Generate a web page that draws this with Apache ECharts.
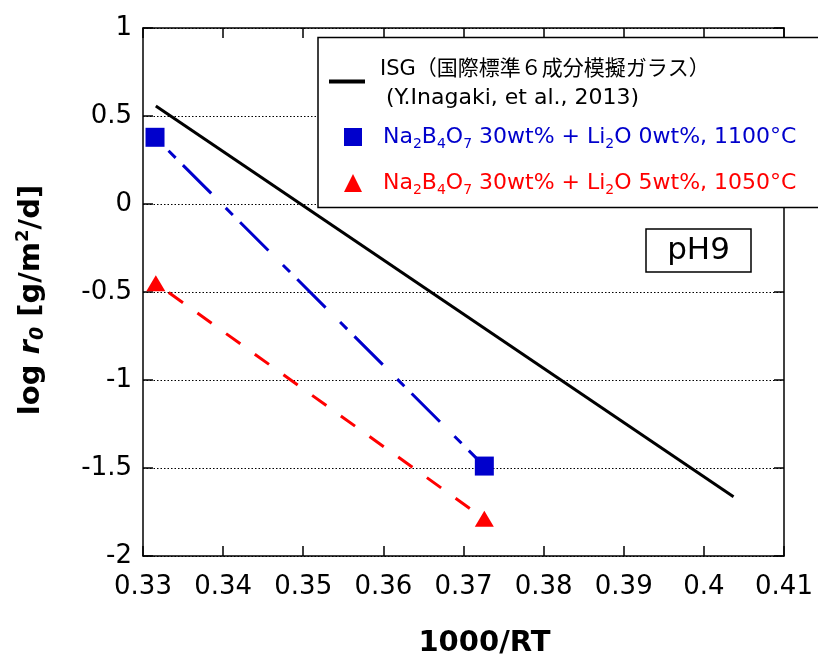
<!DOCTYPE html>
<html>
<head>
<meta charset="utf-8">
<title>log r0 vs 1000/RT</title>
<script src="https://cdn.jsdelivr.net/npm/echarts@6/dist/echarts.min.js"></script>
<style>
  html, body { margin: 0; padding: 0; background: #fff; }
  #chart { width: 818px; height: 657px; }
</style>
</head>
<body>
<div id="chart"></div>
<script>
// Dissolution rate (log r0) against 1000/RT, pH 9
const isgX = [0.3316, 0.4037];
const isgY = [0.557, -1.663];

const li0X = [0.3315, 0.3726];
const li0Y = [0.379, -1.489];

const li5X = [0.3316, 0.3726];
const li5Y = [-0.450, -1.789];

const xTicks = [0.33, 0.34, 0.35, 0.36, 0.37, 0.38, 0.39, 0.40, 0.41];
const yTicks = [-2, -1.5, -1, -0.5, 0, 0.5, 1];

const seriesNames = ['ISG', 'Li2O 0wt%', 'Li2O 5wt%'];

const FONT = "'DejaVu Sans', 'Noto Sans CJK JP', sans-serif";
const BLUE = '#0000cc';
const RED = '#ff0000';

function pairs(xs, ys) {
  return xs.map((x, i) => [x, ys[i]]);
}

const chart = echarts.init(document.getElementById('chart'), null, { renderer: 'canvas' });

const xMin = xTicks[0], xMax = xTicks[xTicks.length - 1];
const yMin = yTicks[0], yMax = yTicks[yTicks.length - 1];

const tickFmt = v => String(+v.toFixed(2));

const baseAxisLine = { show: true, onZero: false, lineStyle: { color: '#000', width: 1.5 } };
const baseTick = { show: true, inside: true, length: 10, lineStyle: { color: '#000', width: 1.5 } };

const option = {
  backgroundColor: '#fff',
  animation: false,
  grid: { left: 143, right: 34, top: 28, bottom: 101, containLabel: false, outerBoundsMode: 'none' },
  xAxis: [
    {
      type: 'value', position: 'bottom',
      min: xMin, max: xMax, interval: 0.01,
      axisLine: baseAxisLine, axisTick: baseTick,
      splitLine: { show: false },
      axisLabel: { formatter: tickFmt, fontFamily: FONT, fontSize: 26, color: '#000', margin: 18 },
      name: '1000/RT', nameLocation: 'middle', nameGap: 73,
      nameTextStyle: { fontFamily: FONT, fontSize: 29, fontWeight: 'bold', color: '#000', padding: [0, 0, 0, 42] }
    },
    {
      type: 'value', position: 'top',
      min: xMin, max: xMax, interval: 0.01,
      axisLine: baseAxisLine, axisTick: baseTick,
      splitLine: { show: false }, axisLabel: { show: false }
    }
  ],
  yAxis: [
    {
      type: 'value', position: 'left',
      min: yMin, max: yMax, interval: 0.5,
      axisLine: baseAxisLine, axisTick: baseTick,
      splitLine: { show: true, lineStyle: { color: '#000', width: 1, type: [1.5, 2] } },
      axisLabel: { fontFamily: FONT, fontSize: 26, color: '#000', margin: 11 },
      name: '{n|log }{i|r}{is|0}{n| [g/m}{sup|2}{n|/d]}',
      nameLocation: 'middle', nameRotate: 90, nameGap: 95,
      nameTextStyle: {
        fontFamily: FONT, fontSize: 29, fontWeight: 'bold', color: '#000',
        padding: [0, 16, 0, 0],
        rich: {
          n: { fontFamily: FONT, fontSize: 29, fontWeight: 'bold', color: '#000', lineHeight: 34 },
          i: { fontFamily: FONT, fontSize: 29, fontWeight: 'bold', fontStyle: 'italic', color: '#000', lineHeight: 34 },
          is: { fontFamily: FONT, fontSize: 19, fontWeight: 'bold', fontStyle: 'italic', color: '#000', lineHeight: 16, verticalAlign: 'bottom' },
          sup: { fontFamily: FONT, fontSize: 18, fontWeight: 'bold', color: '#000', lineHeight: 20, verticalAlign: 'top' }
        }
      }
    },
    {
      type: 'value', position: 'right',
      min: yMin, max: yMax, interval: 0.5,
      axisLine: baseAxisLine, axisTick: baseTick,
      splitLine: { show: false }, axisLabel: { show: false }
    }
  ],
  legend: [
    {
      data: [{ name: seriesNames[0], icon: 'rect' }],
      left: 329, top: 59, padding: 0,
      itemWidth: 36, itemHeight: 4,
      z: 20,
      formatter: () => '{t|ISG（国際標準６成分模擬ガラス）}\n{u|(Y.Inagaki, et al., 2013)}',
      textStyle: {
        fontFamily: FONT, fontSize: 21, color: '#000',
        rich: {
          t: { fontFamily: FONT, fontSize: 21, color: '#000', lineHeight: 34, padding: [0, 0, 0, 10] },
          u: { fontFamily: FONT, fontSize: 22, color: '#000', lineHeight: 24, padding: [0, 0, 0, 16] }
        }
      }
    },
    {
      data: [
        { name: seriesNames[1], icon: 'rect' },
        { name: seriesNames[2], icon: 'triangle' }
      ],
      orient: 'vertical',
      left: 344, top: 126, padding: 0,
      itemWidth: 18, itemHeight: 18, itemGap: 21,
      z: 20,
      formatter: name => name === seriesNames[1]
        ? '{b|Na}{bs|2}{b|B}{bs|4}{b|O}{bs|7}{b| 30wt% + Li}{bs|2}{b|O 0wt%, 1100°C}'
        : '{r|Na}{rs|2}{r|B}{rs|4}{r|O}{rs|7}{r| 30wt% + Li}{rs|2}{r|O 5wt%, 1050°C}',
      textStyle: {
        fontFamily: FONT, fontSize: 22, padding: [0, 0, 0, 16],
        rich: {
          b: { fontFamily: FONT, fontSize: 22, color: BLUE, lineHeight: 28 },
          bs: { fontFamily: FONT, fontSize: 14, color: BLUE, lineHeight: 14, verticalAlign: 'bottom' },
          r: { fontFamily: FONT, fontSize: 22, color: RED, lineHeight: 28 },
          rs: { fontFamily: FONT, fontSize: 14, color: RED, lineHeight: 14, verticalAlign: 'bottom' }
        }
      }
    }
  ],
  graphic: [
    {
      type: 'rect', z: 10,
      shape: { x: 318, y: 37.5, width: 530, height: 170 },
      style: { fill: '#fff', stroke: '#000', lineWidth: 1.5 }
    },
    {
      type: 'rect', z: 10,
      shape: { x: 646, y: 229, width: 105, height: 43 },
      style: { fill: '#fff', stroke: '#000', lineWidth: 1.5 }
    },
    {
      type: 'text', z: 11,
      x: 698.5, y: 251,
      style: { text: 'pH9', fontFamily: FONT, fontSize: 31, fill: '#000', align: 'center', verticalAlign: 'middle' }
    }
  ],
  series: [
    {
      name: seriesNames[0], type: 'line',
      data: pairs(isgX, isgY),
      symbol: 'none', z: 3,
      lineStyle: { color: '#000', width: 3 },
      itemStyle: { color: '#000' }
    },
    {
      // dash-dot: leading gap, short dash, gap, long dash, rest of gap
      name: seriesNames[1], type: 'line',
      data: pairs(li0X, li0Y),
      symbol: 'rect', symbolSize: 19, z: 4,
      lineStyle: { color: BLUE, width: 3, type: [0, 19.1, 10, 10.3, 40, 1.4] },
      itemStyle: { color: BLUE }
    },
    {
      name: seriesNames[2], type: 'line',
      data: pairs(li5X, li5Y),
      symbol: 'triangle', symbolSize: [19, 16], z: 4,
      lineStyle: { color: RED, width: 3, type: [0, 15.9, 17.5, 1.9] },
      itemStyle: { color: RED }
    }
  ]
};

chart.setOption(option);
</script>
</body>
</html>
